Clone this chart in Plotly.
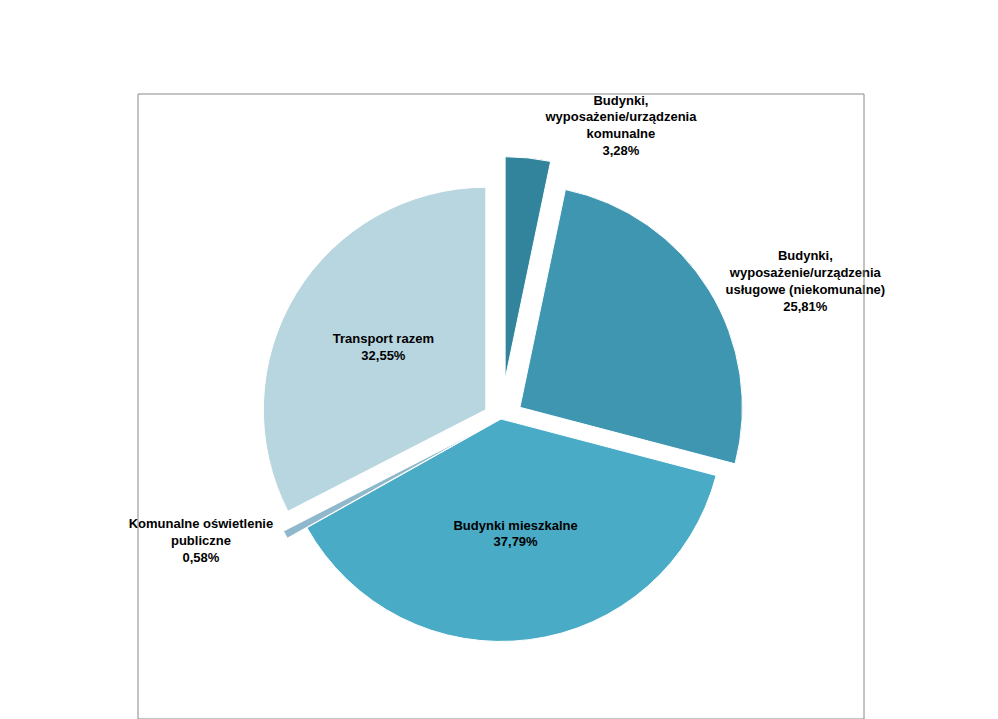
import plotly.graph_objects as go

labels = [
    "Budynki,<br>wyposażenie/urządzenia<br>komunalne",
    "Budynki,<br>wyposażenie/urządzenia<br>usługowe (niekomunalne)",
    "Budynki mieszkalne",
    "Komunalne oświetlenie<br>publiczne",
    "Transport razem",
]
values = [3.28, 25.81, 37.79, 0.58, 32.55]
value_text = ["3,28%", "25,81%", "37,79%", "0,58%", "32,55%"]
colors = ["#31849b", "#3f96b0", "#4aabc6", "#8fb8cc", "#b8d6e0"]

fig = go.Figure()
fig.add_trace(go.Pie(
    labels=labels,
    values=values,
    text=value_text,
    texttemplate="<b>%{label}<br>%{text}</b>",
    textposition=["outside", "outside", "inside", "outside", "inside"],
    insidetextorientation="horizontal",
    textfont=dict(family="Arial, Liberation Sans", size=13, color="black"),
    marker=dict(colors=colors, line=dict(color="white", width=1)),
    pull=[0.18, 0.1, 0.0, 0.1, 0.08],
    sort=False,
    direction="clockwise",
    rotation=0,
    showlegend=False,
    domain=dict(x=[0.12, 0.88], y=[0.06, 0.9]),
))
fig.update_traces(insidetextfont=dict(color="black"), outsidetextfont=dict(color="black"))

fig.update_layout(
    width=998, height=719,
    paper_bgcolor="white",
    margin=dict(l=1, r=1, t=1, b=1),
    font=dict(family="Arial, Liberation Sans"),
    uniformtext=dict(minsize=12, mode="show"),
    shapes=[dict(type="rect", xref="paper", yref="paper", x0=0, x1=1, y0=0, y1=1,
                 line=dict(color="#888888", width=1))],
)
fig.write_html("out.html")
